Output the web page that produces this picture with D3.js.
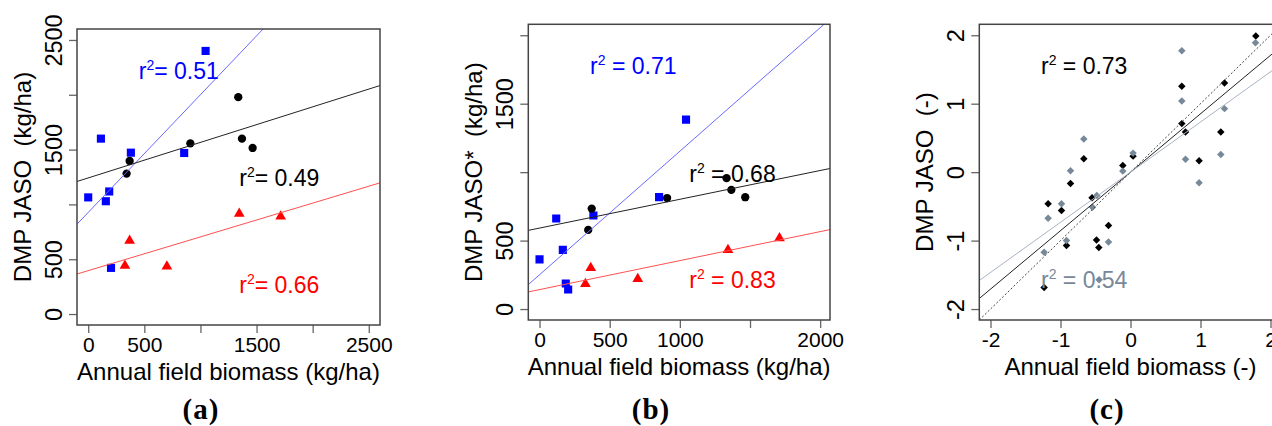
<!DOCTYPE html>
<html>
<head>
<meta charset="utf-8">
<script src="https://cdn.jsdelivr.net/npm/d3@7"></script>
<style>
  body { margin: 0; background: #fff; }
  text { font-family: "Liberation Sans", Arial, sans-serif; white-space: pre; }
  .axis path.domain { display: none; }
  .axis line { stroke: #666; stroke-width: 1.3; }
  .frame { fill: none; stroke: #444; stroke-width: 1.5; }
</style>
</head>
<body>
<script>
// --- panel (a): DMP JASO vs field biomass (kg/ha)
var aBlueX  = [0, 113, 157, 187, 203, 380, 855, 1046];
var aBlueY  = [1064, 1600, 1029, 1118, 421, 1472, 1469, 2400];
var aBlackX = [342, 369, 910, 1337, 1370, 1465];
var aBlackY = [1281, 1396, 1557, 1978, 1600, 1515];
var aRedX   = [327, 369, 701, 1346, 1715];
var aRedY   = [442, 670, 435, 915, 890];
var aR2     = ["0.51", "0.49", "0.66"];

// --- panel (b): DMP JASO* vs field biomass (kg/ha)
var bBlueX  = [0, 119, 166, 187, 204, 384, 852, 1044];
var bBlueY  = [363, 661, 432, 187, 143, 683, 818, 1384];
var bBlackX = [347, 372, 909, 1333, 1367, 1466];
var bBlackY = [578, 734, 811, 956, 871, 817];
var bRedX   = [327, 365, 700, 1343, 1710];
var bRedY   = [183, 300, 220, 432, 517];
var bR2     = ["0.71", "0.68", "0.83"];

// --- panel (c): standardised values (-)
var cBlackX = [1.79, 0.733, 1.343, 0.733, 0.786, 1.29, 0.98, 0.037, -0.11, -0.667, -0.857, -0.549, -1.177, -0.986, -0.314, -0.486, -0.453, -0.914, -1.234];
var cBlackY = [1.99, 1.255, 1.303, 0.709, 0.586, 0.586, 0.167, 0.234, 0.098, 0.196, -0.165, -0.375, -0.463, -0.561, -0.78, -0.99, -1.102, -1.073, -1.684];
var cGrayX  = [1.786, 0.733, 0.733, 1.343, -0.667, 0.786, 1.29, 0.98, -0.857, -0.11, 0.037, -0.481, -0.986, -1.177, -0.543, -0.914, -0.314, -1.234, -0.449];
var cGrayY  = [1.889, 1.772, 1.04, 0.928, 0.483, 0.19, 0.259, -0.155, 0.02, 0.015, 0.278, -0.341, -0.463, -0.673, -0.512, -1.0, -1.02, -1.171, -1.571];
var cR2     = ["0.73", "0.54"];

// tick values and labels (R drops labels that would overlap)
var aTicks = [0, 500, 1000, 1500, 2000, 2500];
var aXLabels = ["0", "500", "", "1500", "", "2500"];
var aYLabels = ["0", "500", "", "1500", "", "2500"];
var bTicks = [0, 500, 1000, 1500, 2000];
var bXLabels = ["0", "500", "1000", "", "2000"];
var bYLabels = ["0", "500", "", "1500", ""];
var cTicks = [-2, -1, 0, 1, 2];
var cLabels = ["-2", "-1", "0", "1", "2"];

var zip = function(xs, ys) { return xs.map(function(x, i) { return {x: x, y: ys[i]}; }); };

// least squares fit
var fit = function(pts) {
  var mx = d3.mean(pts, function(d) { return d.x; }),
      my = d3.mean(pts, function(d) { return d.y; });
  var sxy = d3.sum(pts, function(d) { return (d.x - mx) * (d.y - my); }),
      sxx = d3.sum(pts, function(d) { return (d.x - mx) * (d.x - mx); });
  var b = sxy / sxx;
  return {a: my - b * mx, b: b};
};

var panels = [
  {id: "a", box: [77, 29, 380, 325], xDom: [-100, 2600], yDom: [-100, 2600],
   xTicks: aTicks, xLabels: aXLabels, yTicks: aTicks, yLabels: aYLabels,
   xTitle: "Annual field biomass (kg/ha)", yTitle: "DMP JASO  (kg/ha)", tag: "(a)", tagX: 201,
   series: [
     {pts: zip(aBlueX, aBlueY), shape: "square", color: "#0000ff", line: "#6a6aff"},
     {pts: zip(aBlackX, aBlackY), shape: "circle", color: "#000", line: "#222"},
     {pts: zip(aRedX, aRedY), shape: "triangle", color: "#ff0000", line: "#ff5050"}
   ],
   labels: [
     {x: 450, y: 2140, r2: aR2[0], sep: "= ", color: "#0000ff"},
     {x: 1346, y: 1170, r2: aR2[1], sep: "= ", color: "#000"},
     {x: 1346, y: 190, r2: aR2[2], sep: "= ", color: "#ff0000"}
   ]},
  {id: "b", box: [528.3, 24.3, 830, 320], xDom: [-80, 2070], yDom: [-80, 2080],
   xTicks: bTicks, xLabels: bXLabels, yTicks: bTicks, yLabels: bYLabels,
   xTitle: "Annual field biomass (kg/ha)", yTitle: "DMP JASO*  (kg/ha)", tag: "(b)", tagX: 651,
   series: [
     {pts: zip(bBlueX, bBlueY), shape: "square", color: "#0000ff", line: "#6a6aff"},
     {pts: zip(bBlackX, bBlackY), shape: "circle", color: "#000", line: "#222"},
     {pts: zip(bRedX, bRedY), shape: "triangle", color: "#ff0000", line: "#ff5050"}
   ],
   labels: [
     {x: 360, y: 1717, r2: bR2[0], sep: " = ", color: "#0000ff"},
     {x: 1067, y: 930, r2: bR2[1], sep: " = ", color: "#000"},
     {x: 1067, y: 152, r2: bR2[2], sep: " = ", color: "#ff0000"}
   ]},
  {id: "c", box: [979.3, 24.3, 1281.7, 320], xDom: [-2.16, 2.16], yDom: [-2.16, 2.16],
   xTicks: cTicks, xLabels: cLabels, yTicks: cTicks, yLabels: cLabels,
   xTitle: "Annual field biomass (-)", yTitle: "DMP JASO  (-)", tag: "(c)", tagX: 1107,
   oneToOne: true,
   series: [
     {pts: zip(cBlackX, cBlackY), shape: "diamond", color: "#000", line: "#222"},
     {pts: zip(cGrayX, cGrayY), shape: "diamond", color: "#778899", line: "#a8b4c2"}
   ],
   labels: [
     {x: -1.279, y: 1.434, r2: cR2[0], sep: " = ", color: "#000"},
     {x: -1.279, y: -1.697, r2: cR2[1], sep: " = ", color: "#778899"}
   ]}
];

var svg = d3.select("body").append("svg")
    .attr("width", 1272)
    .attr("height", 426);

svg.append("rect").attr("width", 1272).attr("height", 426).attr("fill", "#fff");

var symbols = {
  square: d3.symbol(d3.symbolSquare, 66),
  circle: d3.symbol(d3.symbolCircle, 54),
  triangle: d3.symbol(d3.symbolTriangle, 50),
  diamond: d3.symbol(d3.symbolSquare, 28)
};

panels.forEach(function(p) {
  var x0 = p.box[0], y0 = p.box[1], x1 = p.box[2], y1 = p.box[3];

  var xScale = d3.scaleLinear().domain(p.xDom).range([x0, x1]);
  var yScale = d3.scaleLinear().domain(p.yDom).range([y1, y0]);

  var g = svg.append("g");

  g.append("clipPath").attr("id", "clip-" + p.id)
    .append("rect")
      .attr("x", x0).attr("y", y0)
      .attr("width", x1 - x0).attr("height", y1 - y0);

  // x axis
  var xAxis = d3.axisBottom(xScale)
      .tickValues(p.xTicks)
      .tickSize(8)
      .tickFormat(function(d, i) { return p.xLabels[i]; });
  var gx = g.append("g")
      .attr("class", "axis")
      .attr("transform", "translate(0," + y1 + ")")
      .call(xAxis);
  gx.selectAll("text")
      .attr("y", 26.7).attr("dy", null)
      .attr("fill", "#000")
      .style("font-size", "21px");

  // y axis, labels parallel to the axis
  var yAxis = d3.axisLeft(yScale)
      .tickValues(p.yTicks)
      .tickSize(8)
      .tickFormat(function(d, i) { return p.yLabels[i]; });
  var gy = g.append("g")
      .attr("class", "axis")
      .attr("transform", "translate(" + x0 + ",0)")
      .call(yAxis);
  gy.selectAll("text")
      .attr("x", 0).attr("y", 0).attr("dy", null)
      .attr("text-anchor", "middle")
      .attr("transform", "translate(-15.5,0) rotate(-90)")
      .attr("fill", "#000")
      .style("font-size", "23.5px");

  var plot = g.append("g").attr("clip-path", "url(#clip-" + p.id + ")");

  // points
  p.series.forEach(function(s) {
    plot.selectAll(null)
      .data(s.pts)
      .enter().append("path")
        .attr("d", symbols[s.shape])
        .attr("fill", s.color)
        .attr("transform", function(d) {
          return "translate(" + xScale(d.x) + "," + yScale(d.y) + ")" + (s.shape === "diamond" ? " rotate(45)" : "");
        });
  });

  // 1:1 line
  if (p.oneToOne) {
    plot.append("line")
      .attr("x1", xScale(p.xDom[0])).attr("y1", yScale(p.xDom[0]))
      .attr("x2", xScale(p.xDom[1])).attr("y2", yScale(p.xDom[1]))
      .attr("stroke", "#444").attr("stroke-width", 1)
      .attr("stroke-dasharray", "2,2");
  }

  // regression lines
  p.series.forEach(function(s) {
    var f = fit(s.pts);
    plot.append("line")
      .attr("x1", xScale(p.xDom[0])).attr("y1", yScale(f.a + f.b * p.xDom[0]))
      .attr("x2", xScale(p.xDom[1])).attr("y2", yScale(f.a + f.b * p.xDom[1]))
      .attr("stroke", s.line).attr("stroke-width", 1);
  });

  // r2 labels
  p.labels.forEach(function(l) {
    var t = g.append("text")
        .attr("x", xScale(l.x)).attr("y", yScale(l.y))
        .attr("fill", l.color)
        .style("font-size", "23px");
    t.append("tspan").text("r");
    t.append("tspan").attr("dy", -9).style("font-size", "14px").text("2");
    t.append("tspan").attr("dy", 9).text(l.sep + l.r2);
  });

  // box
  g.append("rect")
    .attr("class", "frame")
    .attr("x", x0).attr("y", y0)
    .attr("width", x1 - x0).attr("height", y1 - y0);

  // axis titles
  g.append("text")
    .attr("x", (x0 + x1) / 2).attr("y", y1 + 55)
    .attr("text-anchor", "middle")
    .style("font-size", "24px")
    .text(p.xTitle);

  g.append("text")
    .attr("text-anchor", "middle")
    .attr("transform", "translate(" + (x0 - 46) + "," + ((y0 + y1) / 2) + ") rotate(-90)")
    .style("font-size", "24px")
    .text(p.yTitle);

  // panel tag
  g.append("text")
    .attr("x", p.tagX).attr("y", 419)
    .attr("text-anchor", "middle")
    .style("font-family", "'Liberation Serif', 'Times New Roman', serif")
    .style("font-weight", "bold")
    .style("font-size", "29px")
    .style("letter-spacing", "1px")
    .text(p.tag);
});
</script>
</body>
</html>
